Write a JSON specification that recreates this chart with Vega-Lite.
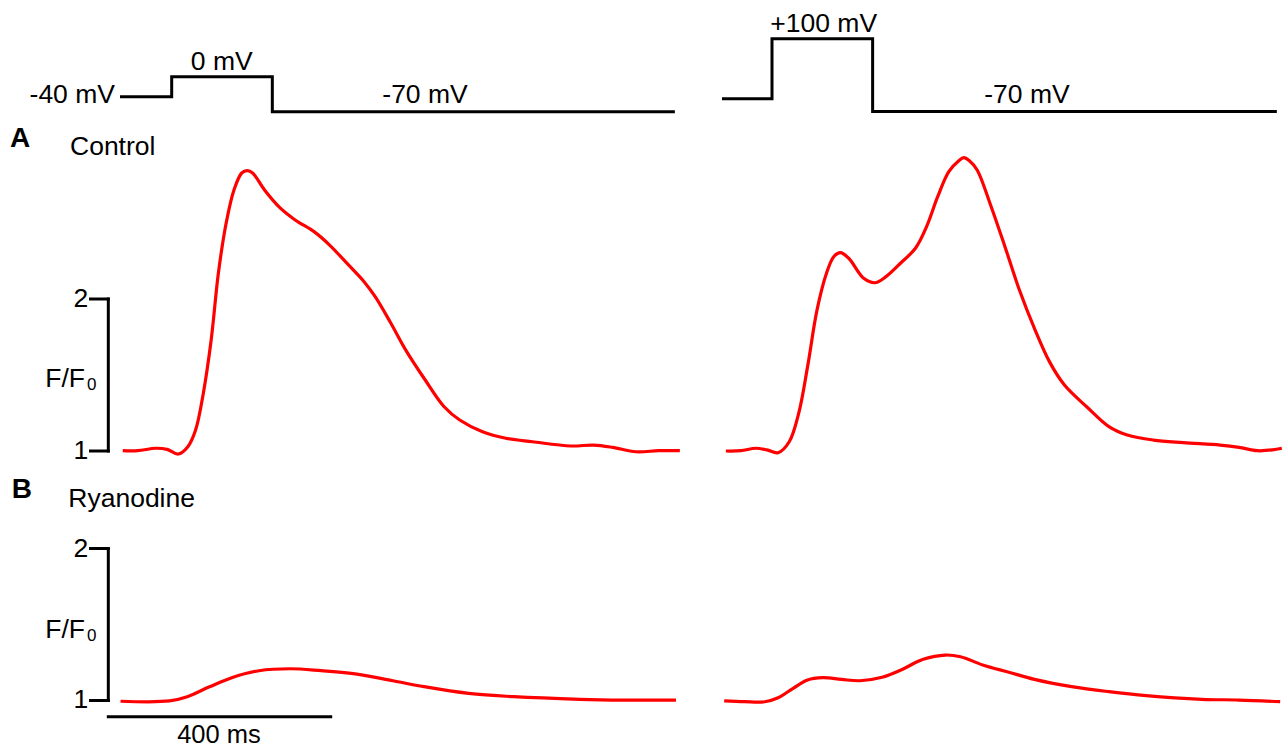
{
  "$schema": "https://vega.github.io/schema/vega-lite/v6.json",
  "padding": 0,
  "background": "white",
  "columns": 2,
  "spacing": 0,
  "bounds": "flush",
  "config": {"view": {"stroke": null}, "font": "Liberation Sans"},
  "concat": [
    {
      "width": 700, "height": 125,
      "encoding": {
        "x": {"field": "t", "type": "quantitative", "scale": {"domain": [-308.8, 950.2], "nice": false, "zero": false}, "axis": null},
        "y": {"field": "v", "type": "quantitative", "scale": {"domain": [-96.6, 153.7], "nice": false, "zero": false}, "axis": null}
      },
      "layer": [
        {
          "data": {"values": [{"t": -93, "v": -40}, {"t": 0, "v": 0}, {"t": 181, "v": -70}, {"t": 905, "v": -70}]},
          "mark": {"type": "line", "interpolate": "step-after", "color": "black", "strokeWidth": 3, "strokeJoin": "miter"}
        },
        {
          "data": {"values": [{"t": -102, "v": -53.15, "label": "-40 mV"}]},
          "mark": {"type": "text", "align": "right", "baseline": "alphabetic", "fontSize": 26.5, "color": "black"},
          "encoding": {"text": {"field": "label"}}
        },
        {
          "data": {"values": [{"t": 90, "v": 13.5, "label": "0 mV"}, {"t": 455.6, "v": -53.15, "label": "-70 mV"}]},
          "mark": {"type": "text", "align": "center", "baseline": "alphabetic", "fontSize": 26.5, "color": "black"},
          "encoding": {"text": {"field": "label"}}
        }
      ]
    },
    {
      "width": 583, "height": 125,
      "encoding": {
        "x": {"field": "t", "type": "quantitative", "scale": {"domain": [-129.5, 919.1], "nice": false, "zero": false}, "axis": null},
        "y": {"field": "v", "type": "quantitative", "scale": {"domain": [-101.2, 190.0], "nice": false, "zero": false}, "axis": null}
      },
      "layer": [
        {
          "data": {"values": [{"t": -90, "v": -40}, {"t": 0, "v": 100}, {"t": 181, "v": -70}, {"t": 908, "v": -70}]},
          "mark": {"type": "line", "interpolate": "step-after", "color": "black", "strokeWidth": 3, "strokeJoin": "miter"}
        },
        {
          "data": {"values": [{"t": 93, "v": 116.2, "label": "+100 mV"}, {"t": 458.6, "v": -50.6, "label": "-70 mV"}]},
          "mark": {"type": "text", "align": "center", "baseline": "alphabetic", "fontSize": 26.5, "color": "black"},
          "encoding": {"text": {"field": "label"}}
        }
      ]
    },
    {
      "width": 700, "height": 350,
      "encoding": {
        "x": {"field": "t", "type": "quantitative", "scale": {"domain": [-308.8, 950.2], "nice": false, "zero": false}, "axis": null},
        "y": {"field": "v", "type": "quantitative", "scale": {"domain": [0.8421, 3.1447], "nice": false, "zero": false}, "axis": null}
      },
      "layer": [
        {
          "data": {"values": [
            {"t": -88, "v": 1.002}, {"t": -61, "v": 1.002}, {"t": -29, "v": 1.018}, {"t": -8.5, "v": 1.011}, {"t": 12, "v": 0.98},
            {"t": 29, "v": 1.028}, {"t": 43, "v": 1.138}, {"t": 57, "v": 1.382}, {"t": 71, "v": 1.73}, {"t": 84, "v": 2.171},
            {"t": 98, "v": 2.5}, {"t": 112, "v": 2.717}, {"t": 126, "v": 2.829}, {"t": 136, "v": 2.844}, {"t": 146, "v": 2.827},
            {"t": 167, "v": 2.717}, {"t": 195, "v": 2.599}, {"t": 222, "v": 2.52}, {"t": 256, "v": 2.443}, {"t": 284, "v": 2.355},
            {"t": 318, "v": 2.224}, {"t": 346, "v": 2.114}, {"t": 366, "v": 2.015}, {"t": 394, "v": 1.842}, {"t": 421, "v": 1.664},
            {"t": 456, "v": 1.467}, {"t": 490, "v": 1.291}, {"t": 518, "v": 1.204}, {"t": 559, "v": 1.127}, {"t": 601, "v": 1.084},
            {"t": 649, "v": 1.061}, {"t": 718, "v": 1.033}, {"t": 759, "v": 1.039}, {"t": 793, "v": 1.024}, {"t": 835, "v": 0.995},
            {"t": 876, "v": 1.002}, {"t": 914, "v": 1.002}
          ]},
          "mark": {"type": "line", "interpolate": "catmull-rom", "color": "#ff0000", "strokeWidth": 3.2}
        },
        {
          "data": {"values": [
            {"t": -114, "t2": -114, "v": 1, "v2": 2},
            {"t": -146, "t2": -114, "v": 2, "v2": 2},
            {"t": -146, "t2": -114, "v": 1, "v2": 1}
          ]},
          "mark": {"type": "rule", "color": "black", "strokeWidth": 3, "strokeCap": "square"},
          "encoding": {"x2": {"field": "t2"}, "y2": {"field": "v2"}}
        },
        {
          "data": {"values": [{"t": -150, "v": 2, "label": "2"}, {"t": -150, "v": 1, "label": "1"}]},
          "mark": {"type": "text", "align": "right", "baseline": "middle", "fontSize": 26.5, "color": "black"},
          "encoding": {"text": {"field": "label"}}
        },
        {
          "data": {"values": [{"t": -155.9, "v": 1.421, "label": "F/F"}]},
          "mark": {"type": "text", "align": "right", "baseline": "alphabetic", "fontSize": 26.5, "color": "black"},
          "encoding": {"text": {"field": "label"}}
        },
        {
          "data": {"values": [{"t": -152.3, "v": 1.401, "label": "0"}]},
          "mark": {"type": "text", "align": "left", "baseline": "alphabetic", "fontSize": 17, "color": "black"},
          "encoding": {"text": {"field": "label"}}
        },
        {
          "data": {"values": [{"t": -182.9, "v": 2.947, "label": "Control"}]},
          "mark": {"type": "text", "align": "left", "baseline": "alphabetic", "fontSize": 26.5, "color": "black"},
          "encoding": {"text": {"field": "label"}}
        },
        {
          "data": {"values": [{"t": -290.8, "v": 3.002, "label": "A"}]},
          "mark": {"type": "text", "align": "left", "baseline": "alphabetic", "fontSize": 28, "fontWeight": "bold", "color": "black"},
          "encoding": {"text": {"field": "label"}}
        }
      ]
    },
    {
      "width": 583, "height": 350,
      "encoding": {
        "x": {"field": "t", "type": "quantitative", "scale": {"domain": [-129.5, 919.1], "nice": false, "zero": false}, "axis": null},
        "y": {"field": "v", "type": "quantitative", "scale": {"domain": [0.8421, 3.1447], "nice": false, "zero": false}, "axis": null}
      },
      "layer": [
        {
          "data": {"values": [
            {"t": -83, "v": 1.0}, {"t": -56, "v": 1.002}, {"t": -29, "v": 1.018}, {"t": -9, "v": 1.007}, {"t": 11, "v": 0.989},
            {"t": 31, "v": 1.061}, {"t": 48, "v": 1.248}, {"t": 64, "v": 1.555}, {"t": 81, "v": 1.928}, {"t": 98, "v": 2.169},
            {"t": 111, "v": 2.278}, {"t": 123, "v": 2.305}, {"t": 138, "v": 2.268}, {"t": 165, "v": 2.136}, {"t": 185, "v": 2.107},
            {"t": 205, "v": 2.147}, {"t": 231, "v": 2.235}, {"t": 258, "v": 2.334}, {"t": 278, "v": 2.476}, {"t": 298, "v": 2.673},
            {"t": 318, "v": 2.838}, {"t": 336, "v": 2.91}, {"t": 345, "v": 2.93}, {"t": 355, "v": 2.91}, {"t": 369, "v": 2.849},
            {"t": 392, "v": 2.63}, {"t": 419, "v": 2.344}, {"t": 445, "v": 2.059}, {"t": 472, "v": 1.807}, {"t": 499, "v": 1.588},
            {"t": 526, "v": 1.434}, {"t": 566, "v": 1.291}, {"t": 606, "v": 1.16}, {"t": 639, "v": 1.105}, {"t": 686, "v": 1.072},
            {"t": 740, "v": 1.055}, {"t": 806, "v": 1.039}, {"t": 840, "v": 1.024}, {"t": 873, "v": 1.002}, {"t": 900, "v": 1.007},
            {"t": 917, "v": 1.018}
          ]},
          "mark": {"type": "line", "interpolate": "catmull-rom", "color": "#ff0000", "strokeWidth": 3.2}
        }
      ]
    },
    {
      "width": 700, "height": 274,
      "encoding": {
        "x": {"field": "t", "type": "quantitative", "scale": {"domain": [-308.8, 950.2], "nice": false, "zero": false}, "axis": null},
        "y": {"field": "v", "type": "quantitative", "scale": {"domain": [0.6809, 2.4836], "nice": false, "zero": false}, "axis": null}
      },
      "layer": [
        {
          "data": {"values": [
            {"t": -92, "v": 0.995}, {"t": -4, "v": 0.997}, {"t": 28, "v": 1.025}, {"t": 68, "v": 1.09}, {"t": 108, "v": 1.15},
            {"t": 157, "v": 1.196}, {"t": 213, "v": 1.209}, {"t": 269, "v": 1.196}, {"t": 333, "v": 1.174}, {"t": 398, "v": 1.13},
            {"t": 454, "v": 1.091}, {"t": 534, "v": 1.047}, {"t": 615, "v": 1.025}, {"t": 734, "v": 1.008}, {"t": 815, "v": 1.003},
            {"t": 907, "v": 1.003}
          ]},
          "mark": {"type": "line", "interpolate": "catmull-rom", "color": "#ff0000", "strokeWidth": 3.2}
        },
        {
          "data": {"values": [
            {"t": -114, "t2": -114, "v": 1, "v2": 2},
            {"t": -146, "t2": -114, "v": 2, "v2": 2},
            {"t": -146, "t2": -114, "v": 1, "v2": 1},
            {"t": -114, "t2": 286, "v": 0.8934, "v2": 0.8934}
          ]},
          "mark": {"type": "rule", "color": "black", "strokeWidth": 3, "strokeCap": "square"},
          "encoding": {"x2": {"field": "t2"}, "y2": {"field": "v2"}}
        },
        {
          "data": {"values": [{"t": -150, "v": 2, "label": "2"}, {"t": -150, "v": 1, "label": "1"}]},
          "mark": {"type": "text", "align": "right", "baseline": "middle", "fontSize": 26.5, "color": "black"},
          "encoding": {"text": {"field": "label"}}
        },
        {
          "data": {"values": [{"t": -155.9, "v": 1.411, "label": "F/F"}]},
          "mark": {"type": "text", "align": "right", "baseline": "alphabetic", "fontSize": 26.5, "color": "black"},
          "encoding": {"text": {"field": "label"}}
        },
        {
          "data": {"values": [{"t": -152.3, "v": 1.391, "label": "0"}]},
          "mark": {"type": "text", "align": "left", "baseline": "alphabetic", "fontSize": 17, "color": "black"},
          "encoding": {"text": {"field": "label"}}
        },
        {
          "data": {"values": [{"t": -186, "v": 2.275, "label": "Ryanodine"}]},
          "mark": {"type": "text", "align": "left", "baseline": "alphabetic", "fontSize": 26.5, "color": "black"},
          "encoding": {"text": {"field": "label"}}
        },
        {
          "data": {"values": [{"t": -287.8, "v": 2.332, "label": "B"}]},
          "mark": {"type": "text", "align": "left", "baseline": "alphabetic", "fontSize": 28, "fontWeight": "bold", "color": "black"},
          "encoding": {"text": {"field": "label"}}
        },
        {
          "data": {"values": [{"t": 85, "v": 0.7204, "label": "400 ms"}]},
          "mark": {"type": "text", "align": "center", "baseline": "alphabetic", "fontSize": 25.5, "color": "black"},
          "encoding": {"text": {"field": "label"}}
        }
      ]
    },
    {
      "width": 583, "height": 274,
      "encoding": {
        "x": {"field": "t", "type": "quantitative", "scale": {"domain": [-129.5, 919.1], "nice": false, "zero": false}, "axis": null},
        "y": {"field": "v", "type": "quantitative", "scale": {"domain": [0.6809, 2.4836], "nice": false, "zero": false}, "axis": null}
      },
      "layer": [
        {
          "data": {"values": [
            {"t": -86, "v": 0.997}, {"t": -49, "v": 0.992}, {"t": -13, "v": 0.992}, {"t": 11, "v": 1.018}, {"t": 38, "v": 1.08},
            {"t": 64, "v": 1.135}, {"t": 91, "v": 1.15}, {"t": 125, "v": 1.139}, {"t": 158, "v": 1.13}, {"t": 198, "v": 1.153},
            {"t": 232, "v": 1.201}, {"t": 272, "v": 1.271}, {"t": 312, "v": 1.299}, {"t": 339, "v": 1.288}, {"t": 379, "v": 1.234},
            {"t": 426, "v": 1.186}, {"t": 472, "v": 1.139}, {"t": 539, "v": 1.091}, {"t": 606, "v": 1.058}, {"t": 673, "v": 1.032},
            {"t": 773, "v": 1.008}, {"t": 840, "v": 1.003}, {"t": 914, "v": 0.992}
          ]},
          "mark": {"type": "line", "interpolate": "catmull-rom", "color": "#ff0000", "strokeWidth": 3.2}
        }
      ]
    }
  ]
}
